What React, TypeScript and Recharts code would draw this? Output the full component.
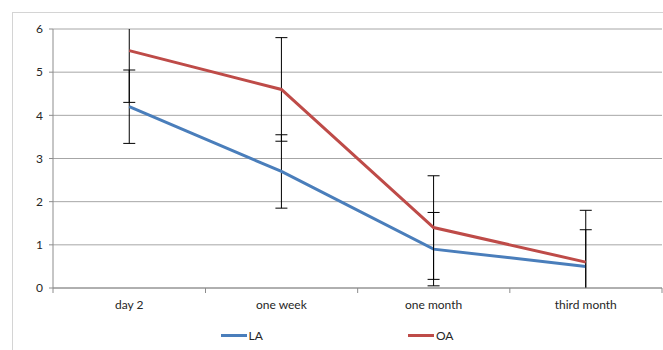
import { usePlotArea, LineChart, Line, XAxis, YAxis, CartesianGrid, Legend, ErrorBar } from 'recharts';

const categories = ['day 2', 'one week', 'one month', 'third month'];
const laValues = [4.2, 2.7, 0.9, 0.5];
const oaValues = [5.5, 4.6, 1.4, 0.6];
const laError = [0.85, 0.85, 0.85, 0.85];
const oaError = [1.2, 1.2, 1.2, 1.2];
const yTicks = [0, 1, 2, 3, 4, 5, 6];

const data = categories.map((name, i) => ({
  name,
  LA: laValues[i],
  OA: oaValues[i],
  laErr: laError[i],
  oaErr: oaError[i],
}));

const FONT = 'Lato, "Open Sans", sans-serif';
const TEXT = '#262626';
const BAND = 610 / categories.length;

// Excel style: tick marks sit between categories, not under them
const XTick = ({ x, y, payload, index }: any) => {
  const axisY = y - 9;
  return (
    <g>
      <line x1={x + BAND / 2} y1={axisY} x2={x + BAND / 2} y2={axisY + 5} stroke="#8c8c8c" />
      {index === 0 && <line x1={x - BAND / 2} y1={axisY} x2={x - BAND / 2} y2={axisY + 5} stroke="#8c8c8c" />}
      <text x={x} y={y + 3} dy="0.71em" textAnchor="middle" fontSize={12} fill={TEXT} fontFamily={FONT}>
        {payload.value}
      </text>
    </g>
  );
};

// clip path matching the plot area, so error bars stop at 0 and 6
const PlotClip = () => {
  const area = usePlotArea();
  if (!area) return null;
  return (
    <defs>
      <clipPath id="plot-clip">
        <rect x={area.x} y={area.y} width={area.width} height={area.height} />
      </clipPath>
    </defs>
  );
};

const LegendContent = ({ payload }: any) => (
  <div style={{ display: 'flex', justifyContent: 'center', gap: 145, fontFamily: FONT, fontSize: 12, color: TEXT }}>
    {payload.map((entry: any) => (
      <div key={entry.value} style={{ display: 'flex', alignItems: 'center' }}>
        <div style={{ width: 26, height: 3, background: entry.color, marginRight: 2 }} />
        <span>{entry.value}</span>
      </div>
    ))}
  </div>
);

export default function App() {
  return (
    <div style={{ position: 'absolute', left: 0, top: 0, width: 663, height: 350, background: '#fff' }}>
      <style>{'.recharts-errorBars { clip-path: url(#plot-clip); }'}</style>
      <div
        style={{
          position: 'absolute', left: 12, top: 12, right: 0, bottom: 0,
          borderTop: '1px solid #d4d4d4', borderLeft: '1px solid #d4d4d4',
        }}
      />
      <LineChart
        width={663}
        height={350}
        data={data}
        margin={{ top: 29, right: 1, left: 12, bottom: 2 }}
        style={{ position: 'absolute', left: 0, top: 0 }}
      >
        <PlotClip />
        <CartesianGrid vertical={false} stroke="#a6a6a6" />
        <XAxis
          dataKey="name"
          height={40}
          tickLine={false}
          tickSize={5}
          tickMargin={4}
          tick={<XTick />}
          stroke="#8c8c8c"
          interval={0}
          padding={{ left: BAND / 2, right: BAND / 2 }}
        />
        <YAxis
          width={41}
          domain={[0, 6]}
          ticks={yTicks}
          allowDataOverflow
          tickSize={4}
          tickMargin={6}
          stroke="#8c8c8c"
          tick={{ fontSize: 12, fill: TEXT, fontFamily: FONT }}
        />
        <Legend verticalAlign="bottom" height={20} content={<LegendContent />} />
        <Line
          type="linear"
          dataKey="LA"
          stroke="#4a7ebb"
          strokeWidth={3}
          dot={false}
          isAnimationActive={false}
        >
          <ErrorBar dataKey="laErr" width={6} stroke="#000" strokeWidth={1} direction="y" isAnimationActive={false} />
        </Line>
        <Line
          type="linear"
          dataKey="OA"
          stroke="#be4b48"
          strokeWidth={3}
          dot={false}
          isAnimationActive={false}
        >
          <ErrorBar dataKey="oaErr" width={6} stroke="#000" strokeWidth={1} direction="y" isAnimationActive={false} />
        </Line>
      </LineChart>
    </div>
  );
}
